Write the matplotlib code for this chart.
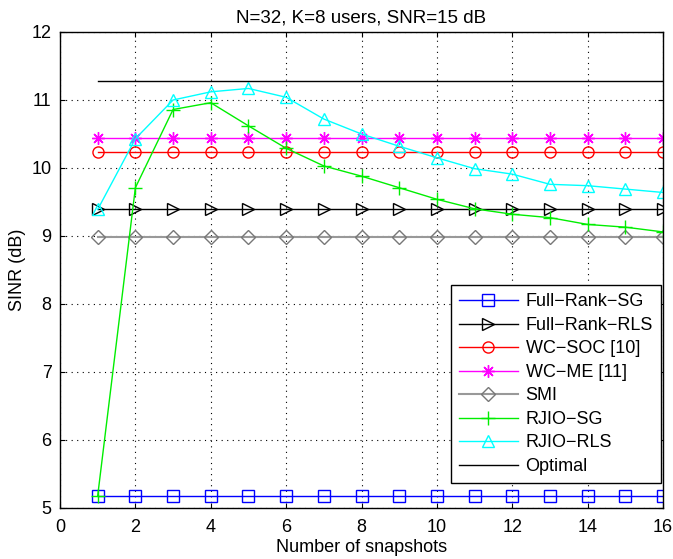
import numpy as np
import matplotlib
matplotlib.use("Agg")
import matplotlib.pyplot as plt

plt.rcParams["font.family"] = ["Liberation Sans", "DejaVu Sans"]

snapshots = np.arange(1, 17)

full_rank_sg = [5.18] * 16
full_rank_rls = [9.39] * 16
wc_soc = [10.23] * 16
wc_me = [10.44] * 16
smi = [8.99] * 16
rjio_sg = [5.18, 9.71, 10.86, 10.96, 10.62, 10.29, 10.03, 9.88,
           9.71, 9.54, 9.40, 9.32, 9.27, 9.17, 9.13, 9.06]
rjio_rls = [9.39, 10.43, 11.00, 11.12, 11.17, 11.04, 10.72, 10.50,
            10.32, 10.15, 9.99, 9.91, 9.76, 9.74, 9.69, 9.64]
optimal = [11.28] * 16

fig = plt.figure(figsize=(6.73, 5.59), dpi=100)
ax = fig.add_axes([60 / 673, 1 - 508 / 559, 603 / 673, 476 / 559])

mk = dict(markersize=8, markerfacecolor="none", linewidth=1)
ax.plot(snapshots, full_rank_sg, color="blue", marker="s", label="Full\u2212Rank\u2212SG", **mk)
ax.plot(snapshots, full_rank_rls, color="black", marker=">", label="Full\u2212Rank\u2212RLS", **mk)
ax.plot(snapshots, wc_soc, color="red", marker="o", label="WC\u2212SOC [10]", **mk)
# matlab style asterisk: 8 spokes
ax.plot(snapshots, wc_me, color="magenta", marker=(8, 2, 0), label="WC\u2212ME [11]",
        markersize=9, linewidth=1)
ax.plot(snapshots, smi, color="#999999", marker="D", label="SMI",
        markersize=7, markerfacecolor="none", markeredgecolor="#777777", linewidth=1.5)
ax.plot(snapshots, rjio_sg, color="#00ee00", marker="+", label="RJIO\u2212SG",
        markersize=10, linewidth=1)
ax.plot(snapshots, rjio_rls, color="cyan", marker="^", label="RJIO\u2212RLS", **mk)
ax.plot(snapshots, optimal, color="black", label="Optimal", linewidth=1)

ax.set_xlim(0, 16)
ax.set_ylim(5, 12)
ax.set_xticks(np.arange(0, 17, 2))
ax.set_yticks(np.arange(5, 13, 1))
ax.grid(True, color="black", linestyle=(0, (1, 4)), linewidth=0.8)
ax.tick_params(direction="in", labelsize=13, top=True, right=True)
ax.tick_params(axis="x", pad=8)
ax.tick_params(axis="y", pad=6)
for s in ax.spines.values():
    s.set_linewidth(1)

ax.set_xlabel("Number of snapshots", fontsize=13, labelpad=2)
ax.set_ylabel("SINR (dB)", fontsize=13, labelpad=4)
ax.set_title("N=32, K=8 users, SNR=15 dB", fontsize=13.5, pad=7)

leg = ax.legend(loc="lower right", bbox_to_anchor=(0.9967, 0.0525), borderaxespad=0,
                fontsize=13, fancybox=False, edgecolor="black", framealpha=1,
                handlelength=3.3, handletextpad=0.4, labelspacing=0.36, borderpad=0.45)
leg.get_frame().set_linewidth(1)

fig.savefig("out.png", dpi=100)
